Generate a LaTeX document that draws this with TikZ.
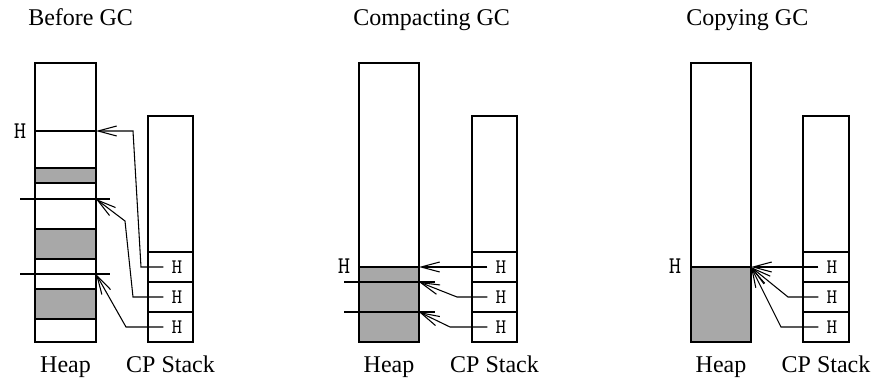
\documentclass[tikz,border=0pt]{standalone}
\usepackage{fontspec}
\setmainfont{Liberation Serif}
\usetikzlibrary{arrows.meta}
\definecolor{livecell}{gray}{0.66}

\begin{document}
\begin{tikzpicture}[
    x=0.75pt, y=-0.75pt,
    area/.style={draw, line width=0.8pt},
    livearea/.style={area, fill=livecell},
    limit/.style={line width=0.8pt},
    title/.style={anchor=base west, inner sep=0pt, font=\fontsize{18}{20}\selectfont},
    caption/.style={anchor=base, inner sep=0pt, font=\fontsize{18}{20}\selectfont},
    reg/.style={inner ysep=0pt, inner xsep=6pt, font=\ttfamily\fontsize{15.5}{17}\selectfont},
    hreg/.style={inner sep=0pt, font=\ttfamily\fontsize{18}{20}\selectfont},
    ptr/.style={-{Straight Barb[length=14pt,width=7.5pt]}, line width=0.8pt}
  ]
  \useasboundingbox (0,0) rectangle (877,382);

  % before GC
  \begin{scope}
    \node[title] (t1) at (28,25) {Before GC};
    \draw[area] (35,63) rectangle (96,342);
    \foreach \a/\b in {168/183,229/259,289/319}
      \draw[livearea] (35,\a) rectangle (96,\b);
    \draw[limit] (35,131) -- (96,131);
    \draw[limit] (20,199) -- (110,199);
    \draw[limit] (20,274) -- (110,274);
    \node[hreg] (h1) at (20,131) {H};
    \draw[area] (148,116) rectangle (193,342);
    \foreach \y in {252,282,312}
      \draw[area] (148,\y) -- (193,\y);
    \node[reg] (s11) at (177,267) {H};
    \node[reg] (s12) at (177,297) {H};
    \node[reg] (s13) at (177,327) {H};
    \coordinate (p11) at (96,131);
    \coordinate (p12) at (96,199);
    \coordinate (p13) at (96,274);
    \draw[ptr] (s11.west) -- (141,267) -- (133,131) -- (p11);
    \draw[ptr] (s12.west) -- (133,297) -- (125,221) -- (p12);
    \draw[ptr] (s13.west) -- (126,327) -- (p13);
    \node[caption] (heap1) at (65.5,372) {Heap};
    \node[caption] (cp1) at (170.5,372) {CP Stack};
  \end{scope}

  % compacting GC
  \begin{scope}[xshift=324*0.75pt]
    \node[title] (t2) at (29,25) {Compacting GC};
    \draw[area] (35,63) rectangle (95,342);
    \draw[livearea] (35,267) rectangle (95,342);
    \draw[limit] (20,282) -- (111,282);
    \draw[limit] (20,312) -- (111,312);
    \node[hreg] (h2) at (20,266) {H};
    \draw[area] (148,116) rectangle (193,342);
    \foreach \y in {252,282,312}
      \draw[area] (148,\y) -- (193,\y);
    \node[reg] (s21) at (177,267) {H};
    \node[reg] (s22) at (177,297) {H};
    \node[reg] (s23) at (177,327) {H};
    \coordinate (p21) at (95,267);
    \coordinate (p22) at (95,282);
    \coordinate (p23) at (95,312);
    \draw[ptr] (s21.west) -- (p21);
    \draw[ptr] (s22.west) -- (133,297) -- (p22);
    \draw[ptr] (s23.west) -- (126,327) -- (p23);
    \node[caption] (heap2) at (65,372) {Heap};
    \node[caption] (cp2) at (170.5,372) {CP Stack};
  \end{scope}

  % copying GC
  \begin{scope}[xshift=656*0.75pt]
    \node[title] (t3) at (30,25) {Copying GC};
    \draw[area] (35,63) rectangle (95,342);
    \draw[livearea] (35,267) rectangle (95,342);
    \node[hreg] (h3) at (19,266) {H};
    \draw[area] (147,116) rectangle (193,342);
    \foreach \y in {252,282,312}
      \draw[area] (147,\y) -- (193,\y);
    \node[reg] (s31) at (176,267) {H};
    \node[reg] (s32) at (176,297) {H};
    \node[reg] (s33) at (176,327) {H};
    \coordinate (p3) at (95,267);
    \draw[ptr] (s31.west) -- (p3);
    \draw[ptr] (s32.west) -- (132,297) -- (p3);
    \draw[ptr] (s33.west) -- (125,327) -- (p3);
    \node[caption] (heap3) at (65,372) {Heap};
    \node[caption] (cp3) at (170,372) {CP Stack};
  \end{scope}
\end{tikzpicture}
\end{document}
